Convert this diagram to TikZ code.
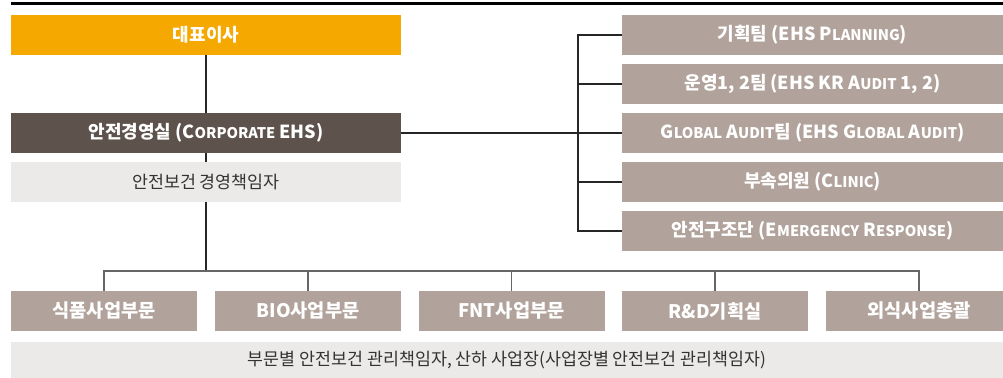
\documentclass[tikz,border=0pt]{standalone}
\usepackage{fontspec}
\setmainfont{Noto Sans CJK KR}
\usetikzlibrary{positioning, calc}
\definecolor{myorange}{RGB}{245,168,0}
\definecolor{mybrown}{RGB}{94,83,76}
\definecolor{mytaupe}{RGB}{177,163,155}
\definecolor{mylight}{RGB}{236,234,232}
\definecolor{mytext}{RGB}{51,51,51}
\newcommand{\lc}[1]{{\fontsize{11}{12}\selectfont #1}}
\tikzset{
  box/.style={rectangle, inner sep=0pt, minimum height=30pt,
    font=\fontsize{13.5}{15}\selectfont\bfseries, text=white},
  topbox/.style={box, fill=myorange, minimum width=292.5pt},
  ehsbox/.style={box, fill=mybrown, minimum width=292.5pt},
  infobox/.style={rectangle, inner sep=0pt, fill=mylight, minimum height=30pt,
    font=\fontsize{13}{15}\selectfont, text=mytext},
  teambox/.style={box, fill=mytaupe, minimum width=285.75pt},
  divbox/.style={box, fill=mytaupe, minimum width=139.5pt,
    font=\fontsize{14}{16}\selectfont\bfseries},
  line/.style={line width=0.8pt, color=black!85},
  busline/.style={line width=0.8pt, color=black!60}
}

\begin{document}
\begin{tikzpicture}[x=0.75pt, y=-0.75pt]
  \useasboundingbox (0,0) rectangle (1003,378);
  \draw[line width=1.6pt] (11,3.5) -- (1003,3.5);

  % Corporate side
  \node[topbox] (ceo) at (206,35) {대표이사};
  \node[ehsbox] (ehs) at (206,133) {안전경영실 (C\lc{ORPORATE} EHS)};
  \node[infobox, minimum width=292.5pt] (resp) at (206,182) {안전보건 경영책임자};

  \draw[line] (ceo) -- (ehs);
  \draw[line] (ehs) -- (resp);

  % EHS teams
  \node[teambox] (t1) at (812.5,35) {기획팀 (EHS P\lc{LANNING})};
  \node[teambox] (t2) at (812.5,84) {운영1, 2팀 (EHS KR A\lc{UDIT} 1, 2)};
  \node[teambox] (t3) at (812.5,133) {G\lc{LOBAL} A\lc{UDIT}팀 (EHS G\lc{LOBAL} A\lc{UDIT})};
  \node[teambox] (t4) at (812.5,182) {부속의원 (C\lc{LINIC})};
  \node[teambox] (t5) at (812.5,231) {안전구조단 (E\lc{MERGENCY} R\lc{ESPONSE})};

  \coordinate (brk) at (578,133);
  \draw[line] (ehs.east) -- (brk);
  \draw[line] (t1.west) -| (brk) |- (t5.west);
  \foreach \i in {2,3,4} {
    \draw[line] (t\i.west) -- (t\i.west -| brk);
  }

  % Divisions
  \node[divbox] (d1) at (104,311) {식품사업부문};
  \node[divbox] (d2) at (308,311) {BIO사업부문};
  \node[divbox] (d3) at (511.5,311) {FNT사업부문};
  \node[divbox] (d4) at (715,311) {R\&D기획실};
  \node[divbox] (d5) at (919,311) {외식사업총괄};

  \coordinate (bus) at (206,271);
  \draw[line] (resp) -- (bus);
  \draw[busline] (d1.north) |- (bus) -| (d5.north);
  \foreach \i in {2,3,4} {
    \draw[busline] (d\i.north) -- (d\i.north |- bus);
  }

  \node[infobox, minimum width=744pt, minimum height=27pt] (site) at (507,360)
    {부문별 안전보건 관리책임자, 산하 사업장(사업장별 안전보건 관리책임자)};
\end{tikzpicture}
\end{document}
